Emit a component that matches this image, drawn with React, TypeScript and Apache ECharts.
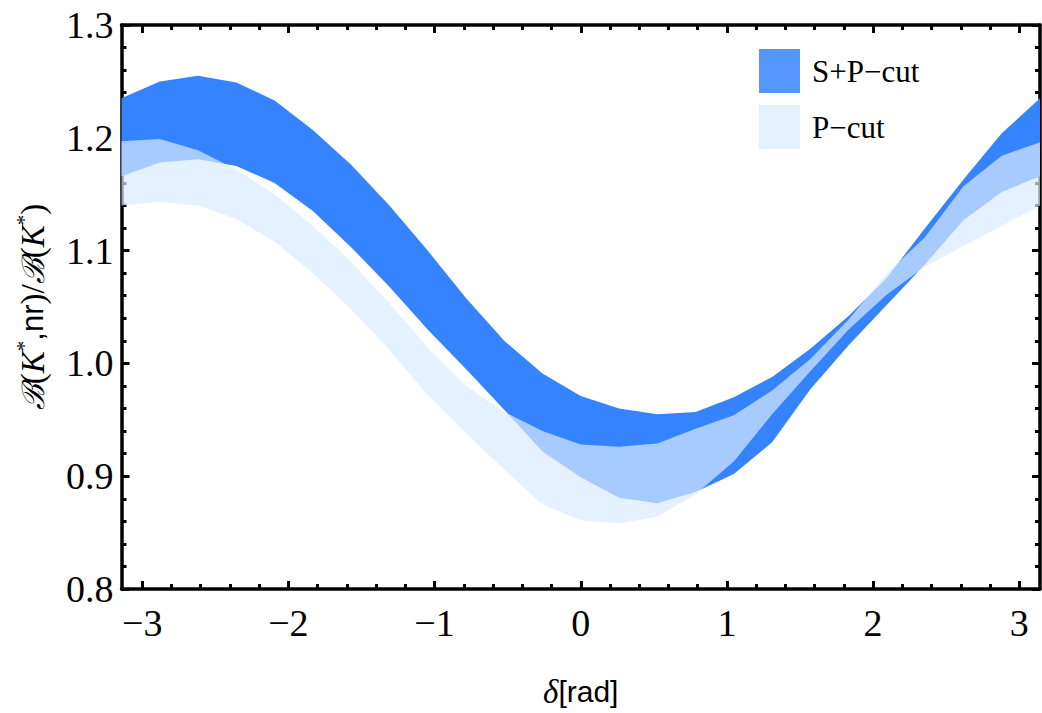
import React, { useEffect, useRef } from 'react';
import * as echarts from 'echarts';

// phase delta in rad (sampling grid of the bands)
const delta = [
  -3.1416, -2.8798, -2.618, -2.3562, -2.0944, -1.8326, -1.5708, -1.309, -1.0472,
  -0.7854, -0.5236, -0.2618, 0, 0.2618, 0.5236, 0.7854, 1.0472, 1.309, 1.5708,
  1.8326, 2.0944, 2.3562, 2.618, 2.8798, 3.1416,
];
// S+P-cut band
const spUpper = [
  1.235, 1.25, 1.255, 1.249, 1.233, 1.207, 1.176, 1.14, 1.1, 1.058, 1.02, 0.991,
  0.971, 0.96, 0.955, 0.957, 0.97, 0.988, 1.013, 1.042, 1.076, 1.12, 1.163, 1.204, 1.235,
];
const spLower = [
  1.166, 1.178, 1.181, 1.175, 1.16, 1.135, 1.103, 1.068, 1.03, 0.995, 0.959, 0.922,
  0.899, 0.881, 0.876, 0.886, 0.902, 0.93, 0.977, 1.016, 1.052, 1.088, 1.127, 1.152, 1.166,
];
// P-cut band
const pUpper = [
  1.197, 1.199, 1.189, 1.172, 1.15, 1.122, 1.09, 1.053, 1.014, 0.98, 0.957, 0.94,
  0.928, 0.926, 0.929, 0.942, 0.954, 0.976, 1.004, 1.039, 1.08, 1.112, 1.157, 1.184, 1.196,
];
const pLower = [
  1.14, 1.143, 1.14, 1.128, 1.108, 1.08, 1.048, 1.012, 0.972, 0.938, 0.906, 0.875,
  0.861, 0.858, 0.864, 0.884, 0.913, 0.955, 0.993, 1.03, 1.061, 1.086, 1.104, 1.122, 1.14,
];

const seriesNames = ['S+P\u2212cut', 'P\u2212cut'];

const xMajorTicks = [-3, -2, -1, 0, 1, 2, 3];
const xMinorTicks = [
  -2.8, -2.6, -2.4, -2.2, -1.8, -1.6, -1.4, -1.2, -0.8, -0.6, -0.4, -0.2,
  0.2, 0.4, 0.6, 0.8, 1.2, 1.4, 1.6, 1.8, 2.2, 2.4, 2.6, 2.8,
];
const yMajorTicks = [0.8, 0.9, 1.0, 1.1, 1.2, 1.3];
const yMinorTicks = [
  0.82, 0.84, 0.86, 0.88, 0.92, 0.94, 0.96, 0.98, 1.02, 1.04, 1.06, 1.08,
  1.12, 1.14, 1.16, 1.18, 1.22, 1.24, 1.26, 1.28,
];

const SERIF = '"Liberation Serif", "Times New Roman", serif';
const SANS = '"Liberation Sans", Arial, sans-serif';

function band(name: string, upper: number[], lower: number[], fill: string) {
  return {
    type: 'custom',
    name,
    xAxisIndex: 0,
    yAxisIndex: 0,
    data: [[0, 1]],
    silent: true,
    itemStyle: { color: fill },
    renderItem: (_params: any, api: any) => {
      const pts: number[][] = [];
      for (let i = 0; i < delta.length; i++) pts.push(api.coord([delta[i], upper[i]]));
      for (let i = delta.length - 1; i >= 0; i--) pts.push(api.coord([delta[i], lower[i]]));
      return { type: 'polygon', shape: { points: pts }, style: { fill, stroke: null } };
    },
  };
}

export default function App() {
  const ref = useRef<HTMLDivElement>(null);
  useEffect(() => {
    if (!ref.current) return;
    const chart = echarts.init(ref.current, null, { renderer: 'svg' });
    const frame = { show: true, onZero: false, lineStyle: { color: '#000', width: 3.5 } };
    const noLine = { show: false, onZero: false };
    const majorTick = (vals: number[]) => ({
      show: true, inside: true, length: 8, customValues: vals,
      lineStyle: { color: '#000', width: 3 },
    });
    const minorTick = (vals: number[]) => ({
      show: true, inside: true, length: 5, customValues: vals,
      lineStyle: { color: '#000', width: 3 },
    });
    const xBase = { type: 'value', min: -Math.PI, max: Math.PI, splitLine: { show: false } };
    const yBase = { type: 'value', min: 0.8, max: 1.3, splitLine: { show: false } };
    const hideLabel = { show: false };

    chart.setOption({
      animation: false,
      backgroundColor: '#fff',
      grid: { left: 121.5, right: 2, top: 25, bottom: 124, containLabel: false },
      legend: {
        orient: 'vertical', left: 759, top: 49, itemWidth: 41, itemHeight: 44, itemGap: 12,
        padding: 0, icon: 'rect', selectedMode: false,
        textStyle: { fontFamily: SERIF, fontSize: 31, color: '#000', padding: [0, 0, 0, 7] },
        data: [
          { name: seriesNames[0], itemStyle: { color: '#5596ff' } },
          { name: seriesNames[1], itemStyle: { color: '#e5f0ff' } },
        ],
      },
      xAxis: [
        {
          ...xBase, position: 'bottom', axisLine: frame, axisTick: majorTick(xMajorTicks),
          axisLabel: {
            customValues: xMajorTicks, fontFamily: SERIF, fontSize: 38, color: '#000', margin: 15,
            formatter: (v: number) => (v < 0 ? '\u2212' + Math.abs(v) : String(v)),
          },
          name: '{d|\u03b4}{s|[rad]}', nameLocation: 'middle', nameGap: 86,
          nameTextStyle: {
            rich: {
              d: { fontFamily: SERIF, fontStyle: 'italic', fontSize: 33, color: '#000' },
              s: { fontFamily: SANS, fontSize: 30, color: '#000' },
            },
          },
        },
        { ...xBase, position: 'bottom', axisLine: noLine, axisTick: minorTick(xMinorTicks), axisLabel: hideLabel },
        { ...xBase, position: 'top', axisLine: frame, axisTick: majorTick(xMajorTicks), axisLabel: hideLabel },
        { ...xBase, position: 'top', axisLine: noLine, axisTick: minorTick(xMinorTicks), axisLabel: hideLabel },
      ],
      yAxis: [
        {
          ...yBase, position: 'left', axisLine: frame, axisTick: majorTick(yMajorTicks),
          axisLabel: {
            customValues: yMajorTicks, fontFamily: SERIF, fontSize: 38, color: '#000', margin: 8,
            formatter: (v: number) => v.toFixed(1),
          },
          name: '{b|\u212C}{p|(}{k|K}{u|*}{s|,nr}{p|)/}{b|\u212C}{p|(}{k|K}{u|*}{p|)}',
          nameLocation: 'middle', nameRotate: 90, nameGap: 70,
          nameTextStyle: {
            rich: {
              b: { fontFamily: '"DejaVu Serif", serif', fontStyle: 'italic', fontSize: 31, color: '#000', lineHeight: 38 },
              p: { fontFamily: SERIF, fontSize: 33, color: '#000', lineHeight: 38 },
              k: { fontFamily: SERIF, fontStyle: 'italic', fontSize: 33, color: '#000', lineHeight: 38 },
              u: { fontFamily: SERIF, fontSize: 21, color: '#000', lineHeight: 21, verticalAlign: 'top' },
              s: { fontFamily: SANS, fontSize: 31, color: '#000', lineHeight: 38 },
            },
          },
        },
        { ...yBase, position: 'left', axisLine: noLine, axisTick: minorTick(yMinorTicks), axisLabel: hideLabel },
        { ...yBase, position: 'right', axisLine: frame, axisTick: majorTick(yMajorTicks), axisLabel: hideLabel },
        { ...yBase, position: 'right', axisLine: noLine, axisTick: minorTick(yMinorTicks), axisLabel: hideLabel },
      ],
      series: [
        band(seriesNames[0], spUpper, spLower, '#3583ff'),
        band(seriesNames[1], pUpper, pLower, 'rgba(219,235,255,0.69)'),
      ],
    });
    return () => chart.dispose();
  }, []);
  return (
    <div
      ref={ref}
      style={{ position: 'fixed', left: 0, top: 0, width: 1042, height: 713, background: '#fff' }}
    />
  );
}
